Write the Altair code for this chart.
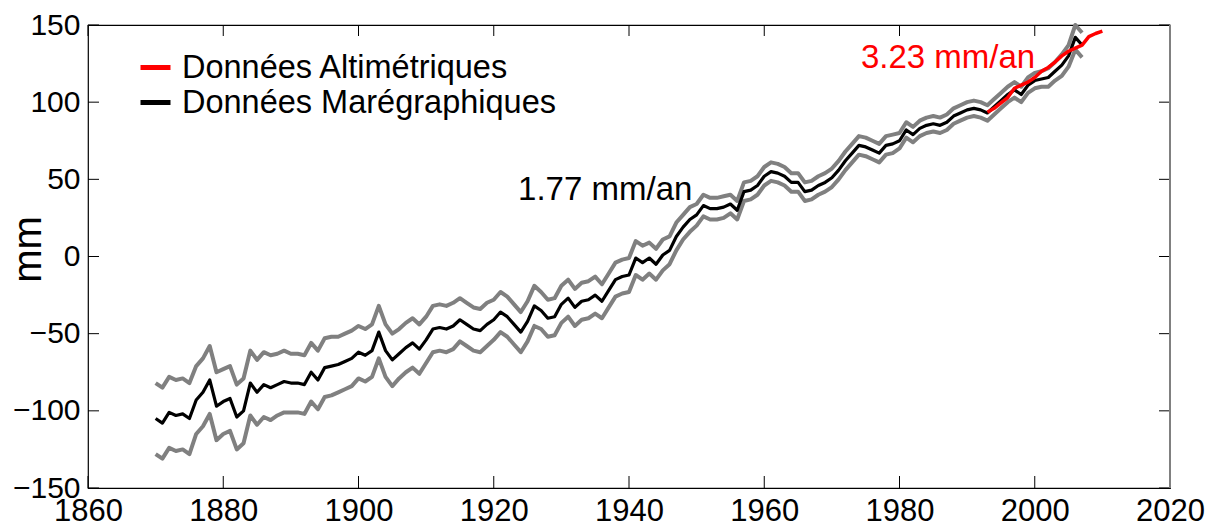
import altair as alt
import pandas as pd

# ---------------- data ----------------
START_YEAR = 1870
# tide-gauge reconstruction (mm), one value per year from 1870
tide = [
    -105, -108, -101, -103, -102, -105, -93, -88, -80, -97,      # 1870s
    -94, -92, -104, -100, -82, -88, -83, -85, -83, -81,         # 1880s
    -82, -82, -83, -75, -80, -72, -71, -70, -68, -66,           # 1890s
    -62, -64, -61, -49, -61, -67, -63, -59, -56, -60,           # 1900s
    -54, -47, -46, -47, -45, -41, -44, -47, -48, -44,           # 1910s
    -41, -36, -39, -44, -49, -42, -32, -35, -40, -39,           # 1920s
    -31, -27, -33, -29, -28, -25, -29, -22, -15, -13,           # 1930s
    -12, -1, -4, -1, -5, 1, 4, 13, 19, 24,                      # 1940s
    27, 33, 31, 31, 32, 34, 30, 42, 43, 46,                     # 1950s
    52, 55, 54, 52, 48, 48, 42, 43, 46, 48,                     # 1960s
    51, 56, 62, 67, 72, 71, 69, 67, 72, 73,                     # 1970s
    75, 82, 79, 83, 85, 86, 85, 87, 91, 93,                     # 1980s
    95, 96, 95, 93, 97, 101, 105, 108, 105, 111,                # 1990s
    114, 115, 116, 120, 124, 130, 142, 137,                     # 2000-2007
]
# half-width of the grey uncertainty envelope (mm), per year
err = [
    23, 23, 23, 23, 23, 23, 22, 22, 22, 22,
    21, 21, 21, 21, 21, 21, 21, 21, 20, 20,
    19, 19, 19, 19, 19, 19, 19, 18, 18, 18,
    17, 17, 17, 17, 17, 17, 16, 16, 16, 16,
    15, 15, 15, 15, 15, 14, 14, 14, 14, 14,
    13, 13, 13, 13, 13, 13, 13, 12, 12, 12,
    12, 12, 12, 12, 12, 12, 11, 11, 11, 11,
    11, 11, 11, 10, 10, 10, 9, 9, 8, 8,
    7, 7, 7, 7, 7, 6, 6, 6, 6, 6,
    6, 6, 6, 6, 6, 6, 6, 6, 6, 6,
    6, 6, 6, 6, 6, 6, 6, 6, 6, 6,
    5, 5, 5, 5, 5, 5, 5, 5, 5, 5,
    5, 5, 5, 5, 5, 5, 5, 5, 5, 5,
    5, 5, 6, 6, 7, 7, 8, 8,
]
# satellite altimetry (mm)
alti_years = [1993, 1994, 1995, 1996, 1997, 1998, 1999, 2000, 2001,
              2002, 2003, 2004, 2005, 2006, 2007, 2008, 2009, 2010]
alti_vals = [93.5, 96, 99.5, 103, 109, 111, 113, 116, 120,
             122.5, 126, 130, 133, 135, 137, 142.5, 144.5, 146]

SERIES = ["Données Altimétriques", "Données Marégraphiques"]
x_ticks = [1860, 1880, 1900, 1920, 1940, 1960, 1980, 2000, 2020]
y_ticks = [-150, -100, -50, 0, 50, 100, 150]

ann_text = ["1.77 mm/an", "3.23 mm/an"]
ann_year = [1923.6, 1974.3]
ann_value = [36.5, 122.0]
ann_color = ["black", "red"]

# ---------------- tables ----------------
years = list(range(START_YEAR, START_YEAR + len(tide)))
tg = pd.DataFrame({"year": years, "value": tide, "err": err})
tg["upper"] = tg["value"] + tg["err"]
tg["lower"] = tg["value"] - tg["err"]
tg["series"] = SERIES[1]
al = pd.DataFrame({"year": alti_years, "value": alti_vals, "series": SERIES[0]})
ann = pd.DataFrame({"year": ann_year, "value": ann_value, "label": ann_text, "color": ann_color})

W, H = 1082, 463
FONT = "Liberation Sans"

xs = alt.Scale(domain=[1860, 2020], nice=False, zero=False)
ys = alt.Scale(domain=[-150, 150], nice=False, zero=False)

x_axis = alt.Axis(values=x_ticks, format="d", ticks=False, domain=False, grid=False,
                  labelFontSize=31, labelFont=FONT, labelColor="black", labelPadding=8,
                  labelFlush=False, labelOverlap=False, title=None)
y_axis = alt.Axis(values=y_ticks, ticks=False, domain=False, grid=False,
                  labelFontSize=30, labelFont=FONT, labelColor="black", labelPadding=8,
                  labelFlush=False, labelOverlap=False,
                  title="mm", titleFontSize=40, titleFont=FONT, titleFontWeight="normal",
                  titleColor="black", titleX=-60, titleY=224, titleAngle=270,
                  titleAlign="center", titleBaseline="middle")

X = alt.X("year:Q", scale=xs, axis=x_axis)

upper = alt.Chart(tg).mark_line(color="#808080", strokeWidth=4, strokeJoin="round").encode(
    x=X, y=alt.Y("upper:Q", scale=ys, axis=y_axis))
lower = alt.Chart(tg).mark_line(color="#808080", strokeWidth=4, strokeJoin="round").encode(
    x=X, y=alt.Y("lower:Q", scale=ys, axis=y_axis))

color = alt.Color("series:N", scale=alt.Scale(domain=SERIES, range=["red", "black"]),
                  legend=alt.Legend(orient="none", legendX=50, legendY=25, title=None,
                                    symbolType="stroke", symbolSize=900, symbolStrokeWidth=5,
                                    labelFontSize=32.5, labelFont=FONT, labelColor="black",
                                    labelOffset=9, labelLimit=800, rowPadding=1, padding=0))

black = alt.Chart(tg).mark_line(strokeWidth=3.2, strokeJoin="round").encode(
    x=X, y=alt.Y("value:Q", scale=ys, axis=y_axis), color=color)
red = alt.Chart(al).mark_line(strokeWidth=3.5, strokeJoin="round").encode(
    x=X, y=alt.Y("value:Q", scale=ys, axis=y_axis), color=color)

texts = alt.Chart(ann).mark_text(align="left", baseline="alphabetic", fontSize=33, font=FONT).encode(
    x=X, y=alt.Y("value:Q", scale=ys, axis=y_axis), text="label:N",
    color=alt.Color("color:N", scale=None))

yt = pd.DataFrame({"value": y_ticks})
xt = pd.DataFrame({"year": x_ticks})
tick_left = alt.Chart(yt).mark_rule(color="black", strokeWidth=1).encode(
    y=alt.Y("value:Q", scale=ys, axis=y_axis), x=alt.value(0), x2=alt.value(11))
tick_right = alt.Chart(yt).mark_rule(color="black", strokeWidth=1).encode(
    y=alt.Y("value:Q", scale=ys, axis=y_axis), x=alt.value(W - 11), x2=alt.value(W))
tick_top = alt.Chart(xt).mark_rule(color="black", strokeWidth=1).encode(
    x=X, y=alt.value(0), y2=alt.value(11))
tick_bottom = alt.Chart(xt).mark_rule(color="black", strokeWidth=1).encode(
    x=X, y=alt.value(H - 12), y2=alt.value(H))
right_border = alt.Chart(xt).mark_rule(color="#808080", strokeWidth=2).encode(
    x=alt.value(W), y=alt.value(0), y2=alt.value(H))

chart = alt.layer(
    upper, lower, black, red, texts,
    tick_left, tick_right, tick_top, tick_bottom, right_border,
).properties(
    width=W, height=H,
    autosize=alt.AutoSizeParams(type="none"),
    padding={"left": 88, "top": 25, "right": 45, "bottom": 38},
    background="white",
).configure_view(stroke="black", strokeWidth=1.2)

chart.save("out.html", embed_options={"renderer": "svg", "actions": False})
